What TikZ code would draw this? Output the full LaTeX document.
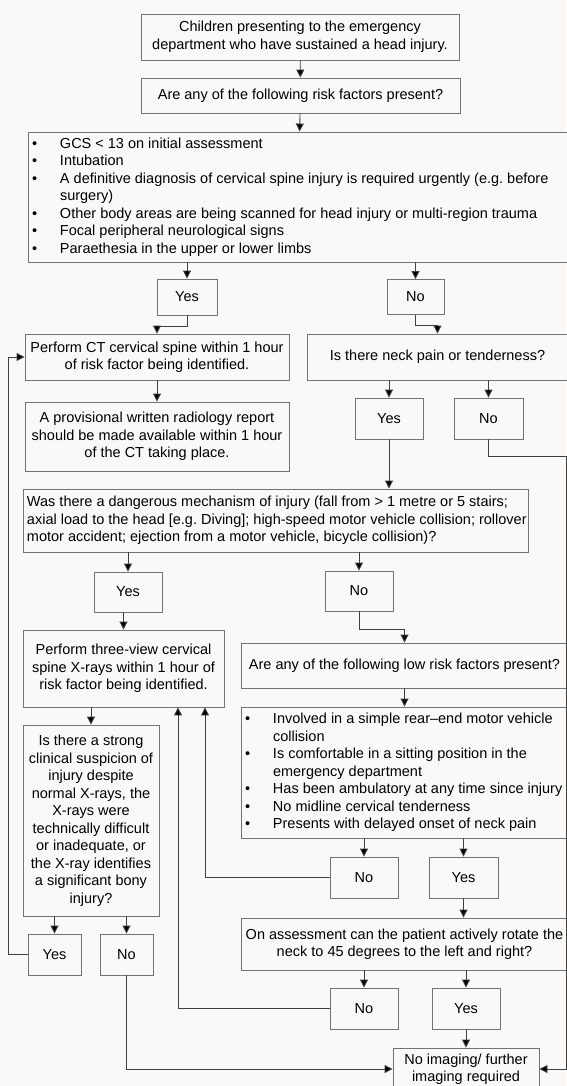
\documentclass[tikz,border=0pt]{standalone}
\usepackage{fontspec}
\setmainfont{Liberation Sans}
\usepackage{tikz}
\usetikzlibrary{arrows.meta,positioning,calc}
\definecolor{paper}{RGB}{251,249,247}
\definecolor{edge}{RGB}{115,115,115}
\newcommand{\fsz}{\fontsize{14.5}{17.5}\selectfont\frenchspacing}
\newcommand{\rfbul}{\makebox[28pt][l]{\textbullet}}
\newcommand{\rfind}{\hspace*{28pt}}

\begin{document}
\begin{tikzpicture}[x=1pt,y=-1pt,
   blk/.style 2 args={draw=edge,fill=paper,line width=0.9pt,font=\fsz,align=center,inner sep=0pt,minimum width=#1,minimum height=#2},
   lst/.style 2 args={draw=edge,fill=paper,line width=0.9pt,font=\fsz,align=flush left,inner xsep=4pt,inner ysep=0pt,text width=#1,minimum height=#2},
   arr/.style={draw=black!75,line width=0.9pt,-{Triangle[width=8pt,length=8pt,fill=black]}}]
  \fill[paper] (0,0) rectangle (566,1086);
  \useasboundingbox (0,0) rectangle (566,1086);

  % top part
  \path (300,37)    node (start)  [blk={318pt}{46pt}] {Children presenting to the emergency\\department who have sustained a head injury.}
        (300.5,95.5) node (riskq) [blk={319pt}{35pt}] {Are any of the following risk factors present?}
        (298,197)   node (risks)  [lst={532pt}{130pt}] {\mbox{\rfbul GCS < 13 on initial assessment}\\
                      \mbox{\rfbul Intubation}\\
                      \mbox{\rfbul A definitive diagnosis of cervical spine injury is required urgently (e.g. before}\\
                      \mbox{\rfind surgery)}\\
                      \mbox{\rfbul Other body areas are being scanned for head injury or multi-region trauma}\\
                      \mbox{\rfbul Focal peripheral neurological signs}\\
                      \mbox{\rfbul Paraethesia in the upper or lower limbs}};
  \path (187,297)   node (yesA)   [blk={60pt}{36pt}] {Yes}
        (415.5,297) node (noA)    [blk={57pt}{35pt}] {No}
        (157,357)   node (ct)     [blk={264pt}{46pt}] {Perform CT cervical spine within 1 hour\\of risk factor being identified.}
        (437.5,357) node (neck)   [blk={261pt}{46pt}] {Is there neck pain or tenderness?}
        (157,436.5) node (report) [blk={264pt}{69pt}] {A provisional written radiology report\\should be made available within 1 hour\\of the CT taking place.}
        (389,418.5) node (yesB)   [blk={68pt}{41pt}] {Yes}
        (488.5,418.5) node (noB)  [blk={69pt}{41pt}] {No};

  % middle part
  \path (275.5,520.5) node (mech) [lst={497pt}{63pt}] {\mbox{Was there a dangerous mechanism of injury (fall from > 1 metre or 5 stairs;}\\
                      \mbox{axial load to the head [e.g. Diving]; high-speed motor vehicle collision; rollover}\\
                      \mbox{motor accident; ejection from a motor vehicle, bicycle collision)?}}
        (128,592)   node (yesC)   [blk={68pt}{40pt}] {Yes}
        (359,591)   node (noC)    [blk={68pt}{40pt}] {No}
        (123.5,668.5) node (xray) [blk={201pt}{77pt}] {Perform three-view cervical\\spine X-rays within 1 hour of\\risk factor being identified.}
        (404.5,665.5) node (lowq) [blk={327pt}{45pt}] {Are any of the following low risk factors present?}
        (404.5,772.5) node (lowlist) [lst={319pt}{131pt}] {\mbox{\rfbul Involved in a simple rear--end motor vehicle}\\
                      \mbox{\rfind collision}\\
                      \mbox{\rfbul Is comfortable in a sitting position in the}\\
                      \mbox{\rfind emergency department}\\
                      \mbox{\rfbul Has been ambulatory at any time since injury}\\
                      \mbox{\rfbul No midline cervical tenderness}\\
                      \mbox{\rfbul Presents with delayed onset of neck pain}}
        (91,820.5)  node (susp)   [blk={136pt}{191pt}] {Is there a strong\\clinical suspicion of\\injury despite\\normal X-rays, the\\X-rays were\\technically difficult\\or inadequate, or\\the X-ray identifies\\a significant bony\\injury?};

  % bottom part
  \path (364,877.5)   node (noD)  [blk={68pt}{41pt}] {No}
        (463.5,877.5) node (yesD) [blk={69pt}{41pt}] {Yes}
        (404.5,944)   node (rot)  [blk={327pt}{52pt}] {On assessment can the patient actively rotate the\\neck to 45 degrees to the left and right?}
        (364,1008.5)  node (noE)  [blk={68pt}{41pt}] {No}
        (466,1008.5)  node (yesE) [blk={68pt}{41pt}] {Yes}
        (54.5,954.5)  node (yesF) [blk={53pt}{41pt}] {Yes}
        (126.5,954.5) node (noF)  [blk={53pt}{41pt}] {No}
        (466,1069)    node (final) [blk={146pt}{42pt}] {No imaging/ further\\imaging required};

  \draw[arr] (start) -- (riskq);
  \draw[arr] (riskq) -- (risks);
  \draw[arr] (risks.south -| yesA) -- (yesA);
  \draw[arr] (risks.south -| noA) -- (noA);
  \draw[arr] (yesA.south) -- ++(0,11) -| (ct.north);
  \draw[arr] (noA.south) -- ++(0,10) -| (neck.north);
  \draw[arr] (ct) -- (report);
  \draw[arr] (neck.south -| yesB) -- (yesB);
  \draw[arr] (neck.south -| noB) -- (noB);
  \draw[arr] (yesB) -- (yesB |- mech.north);
  \draw[arr] (noB.south) -- ++(0,17) -| ($(final.east)+(26.5,0)$) -- (final.east);
  \draw[arr] (mech.south -| yesC) -- (yesC);
  \draw[arr] (mech.south -| noC) -- (noC);
  \draw[arr] (yesC.south -| xray) -- (xray);
  \draw[arr] (noC.south) -- ++(0,18) -| (lowq.north);
  \draw[arr] (xray.south -| susp) -- (susp);
  \draw[arr] (lowq) -- (lowlist);
  \draw[arr] (lowlist.south -| noD) -- (noD);
  \draw[arr] (lowlist.south -| yesD) -- (yesD);
  \draw[arr] (noD.west) -| ($(xray.south)+(81.5,0)$);
  \draw[arr] (yesD) -- (yesD |- rot.north);
  \draw[arr] (rot.south -| noE) -- (noE);
  \draw[arr] (rot.south -| yesE) -- (yesE);
  \draw[arr] (noE.west) -| ($(xray.south)+(54.5,0)$);
  \draw[arr] (yesE) -- (yesE |- final.north);
  \draw[arr] (susp.south -| yesF) -- (yesF);
  \draw[arr] (susp.south -| noF) -- (noF);
  \draw[arr] (yesF.west) -- ++(-19.5,0) |- (ct.west);
  \draw[arr] (noF.south) |- (final.west);
\end{tikzpicture}
\end{document}
